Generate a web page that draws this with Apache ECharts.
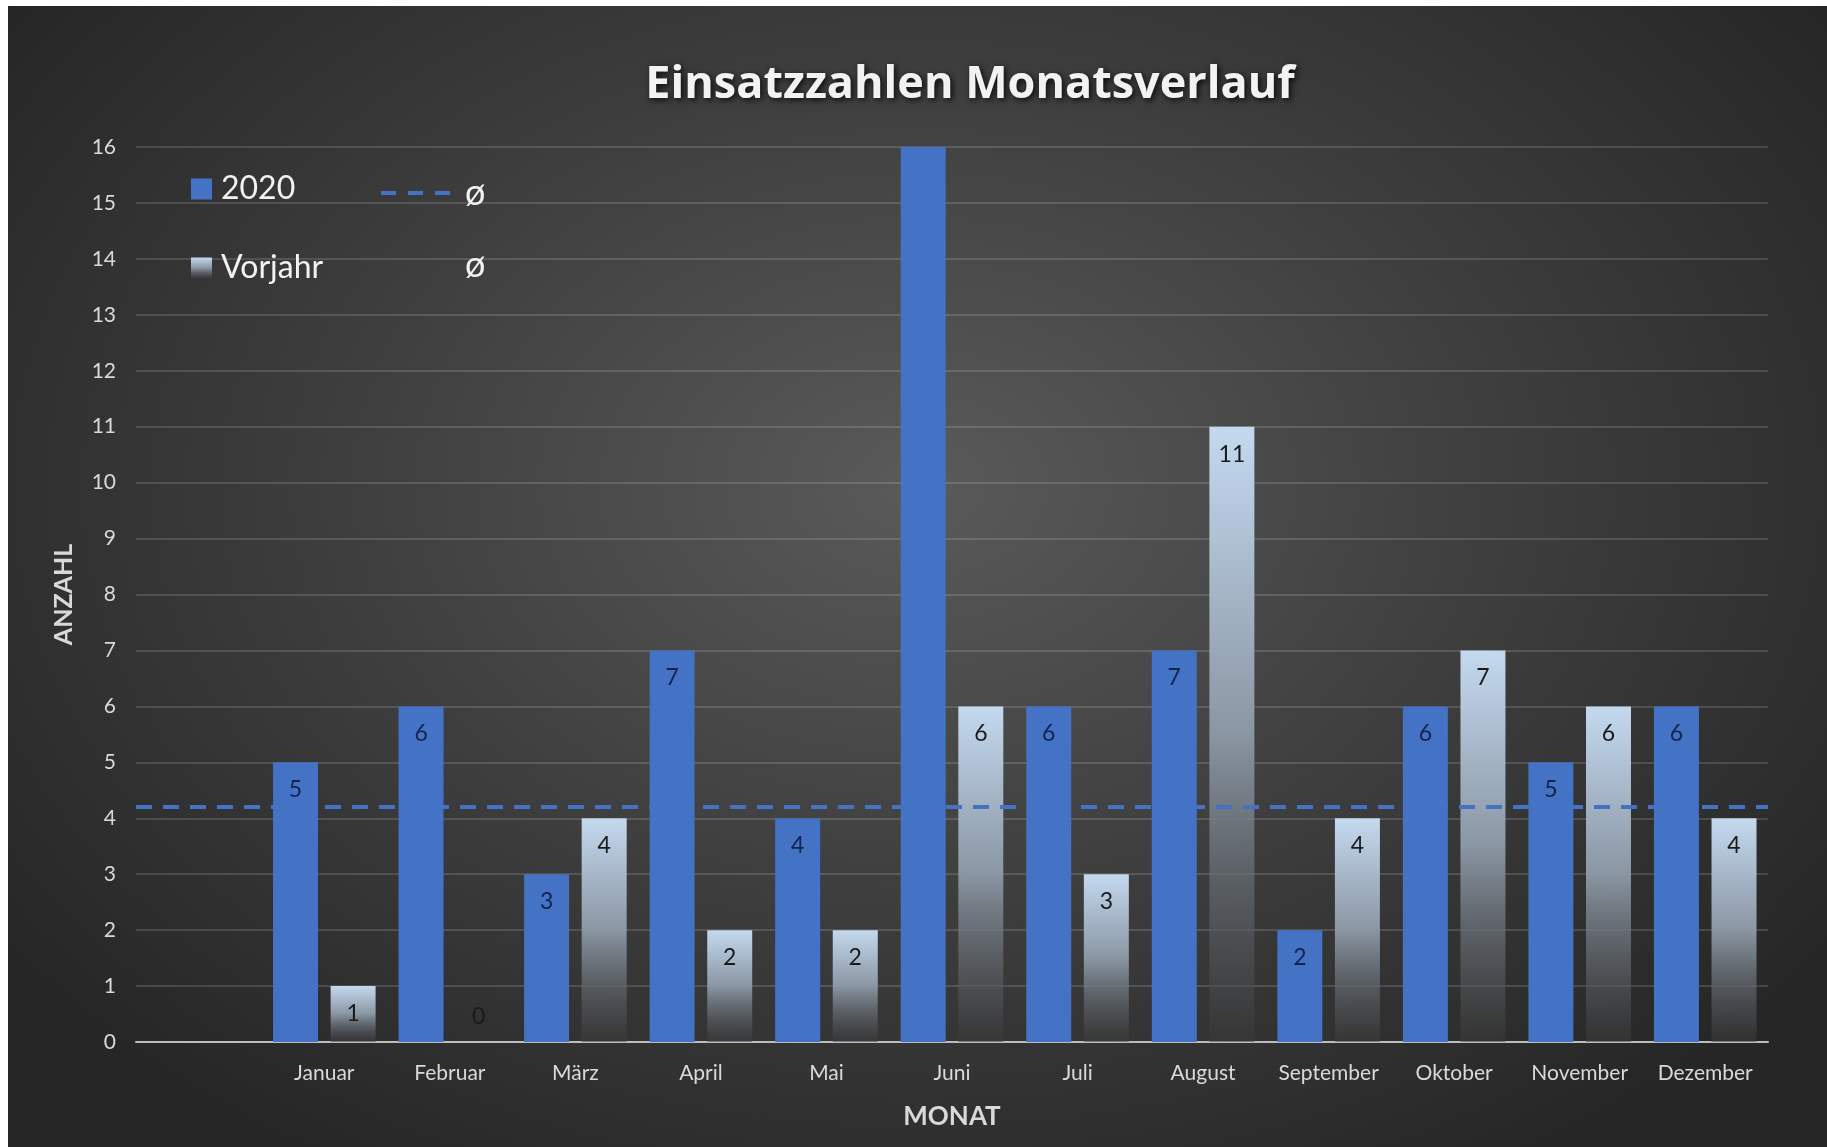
<!DOCTYPE html>
<html>
<head>
<meta charset="utf-8">
<script src="https://cdn.jsdelivr.net/npm/echarts@6/dist/echarts.min.js"></script>
<style>
  html, body { margin: 0; padding: 0; background: #ffffff; }
  #main {
    position: absolute; left: 8px; top: 6px; width: 1819px; height: 1141px;
    background: radial-gradient(ellipse 62% 70% at 50% 42%, #5a5a5a 0%, #3c3c3c 55%, #262626 100%);
  }
</style>
</head>
<body>
<div id="main"></div>
<script>
const categories = ['', 'Januar', 'Februar', 'März', 'April', 'Mai', 'Juni', 'Juli', 'August', 'September', 'Oktober', 'November', 'Dezember'];
const values2020 = [null, 5, 6, 3, 7, 4, 16, 6, 7, 2, 6, 5, 6];
const valuesVorjahr = [null, 1, 0, 4, 2, 2, 6, 3, 11, 4, 7, 6, 4];
const avgLineValue = 4.2;
const yTicks = { min: 0, max: 16, interval: 1 };

const FONT = 'Lato';
const chart = echarts.init(document.getElementById('main'));

// label of a bar reaching the top of the axis is clipped in the reference
const data2020 = values2020.map(v => (v !== null && v >= yTicks.max) ? { value: v, label: { show: false } } : v);
const vorjahrData = valuesVorjahr.map(v => v === 0 ? { value: v, label: { position: 'top', distance: 14 } } : v);

const option = {
  backgroundColor: 'transparent',
  title: {
    text: 'Einsatzzahlen Monatsverlauf',
    left: 957, top: 52, textAlign: 'center',
    textStyle: {
      color: '#f2f2f2', fontFamily: 'Open Sans', fontWeight: 'bold', fontSize: 45,
      textShadowColor: 'rgba(0,0,0,0.85)', textShadowBlur: 6, textShadowOffsetX: 2, textShadowOffsetY: 2
    }
  },
  legend: [
    {
      data: [{ name: '2020', icon: 'rect' }, { name: 'Vorjahr', icon: 'rect' }],
      orient: 'vertical', left: 178, top: 162, itemGap: 47,
      itemWidth: 21, itemHeight: 21,
      textStyle: { color: '#f2f2f2', fontFamily: FONT, fontSize: 32, lineHeight: 31, padding: [0, 0, 0, 4] },
      selectedMode: false
    },
    {
      data: [
        { name: 'ø', icon: 'path://M0,0h15v4h-15z M27,0h15v4h-15z M54,0h15v4h-15z', itemStyle: { color: '#4472c4' } },
        { name: 'ø ', icon: 'rect', itemStyle: { color: 'rgba(0,0,0,0)' } }
      ],
      orient: 'vertical', left: 368, top: 163, itemGap: 34,
      itemWidth: 69, itemHeight: 4,
      textStyle: { color: '#f2f2f2', fontFamily: FONT, fontSize: 36, lineHeight: 38, padding: [0, 0, 0, 10] },
      selectedMode: false
    }
  ],
  grid: { left: 128, right: 59, top: 141, bottom: 105 },
  xAxis: {
    type: 'category', data: categories,
    name: 'MONAT', nameLocation: 'middle', nameGap: 62,
    nameTextStyle: { color: '#d9d9d9', fontFamily: FONT, fontWeight: 'bold', fontSize: 26 },
    axisLine: { lineStyle: { color: '#bdbdbd', width: 2 } },
    axisTick: { show: false },
    axisLabel: { color: '#d9d9d9', fontFamily: FONT, fontSize: 21, margin: 21, interval: 0 }
  },
  yAxis: {
    type: 'value', min: yTicks.min, max: yTicks.max, interval: yTicks.interval,
    name: 'ANZAHL', nameLocation: 'middle', nameGap: 60,
    nameTextStyle: { color: '#d9d9d9', fontFamily: FONT, fontWeight: 'bold', fontSize: 25 },
    axisLine: { show: false }, axisTick: { show: false },
    axisLabel: { color: '#d9d9d9', fontFamily: FONT, fontSize: 21, margin: 20 },
    splitLine: { lineStyle: { color: 'rgba(255,255,255,0.14)', width: 2 } }
  },
  series: [
    {
      name: '2020', type: 'bar', data: data2020, z: 6,
      barWidth: 45, barGap: '28%',
      itemStyle: { color: '#4472c4' },
      label: { show: true, position: 'insideTop', distance: 16, color: '#12234f', fontFamily: FONT, fontSize: 23 }
    },
    {
      name: 'Vorjahr', type: 'bar', data: vorjahrData, z: 2,
      barWidth: 45, barGap: '28%',
      itemStyle: {
        color: new echarts.graphic.LinearGradient(0, 0, 0, 1, [
          { offset: 0, color: '#c4d9ef' },
          { offset: 0.5, color: '#8a96a3' },
          { offset: 1, color: 'rgba(60,60,60,0.5)' }
        ])
      },
      label: { show: true, position: 'insideTop', distance: 16, color: '#1a1a1a', fontFamily: FONT, fontSize: 23 }
    },
    {
      name: 'ø', type: 'line', data: [],
      itemStyle: { color: '#4472c4' },
      markLine: {
        silent: true, symbol: ['none', 'none'], z: 5,
        label: { show: false },
        lineStyle: { color: '#4472c4', type: [16, 11], width: 4 },
        data: [{ yAxis: avgLineValue }]
      }
    },
    {
      name: 'ø ', type: 'line', data: [],
      itemStyle: { color: 'rgba(0,0,0,0)' }
    }
  ]
};
chart.setOption(option);
</script>
</body>
</html>
